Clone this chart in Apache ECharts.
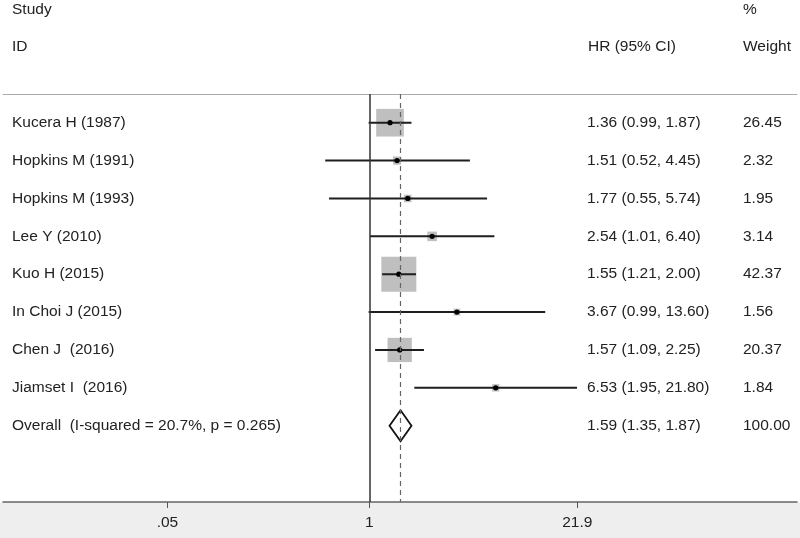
<!DOCTYPE html>
<html>
<head>
<meta charset="utf-8">
<script src="https://cdn.jsdelivr.net/npm/echarts@6/dist/echarts.min.js"></script>
<style>
  html, body { margin: 0; padding: 0; background: #fff; }
  #chart { width: 800px; height: 538px; }
</style>
</head>
<body>
<div id="chart"></div>
<script>
const studies = ['Kucera H (1987)', 'Hopkins M (1991)', 'Hopkins M (1993)', 'Lee Y (2010)',
  'Kuo H (2015)', 'In Choi J (2015)', 'Chen J  (2016)', 'Jiamset I  (2016)'];
const hr = [1.36, 1.51, 1.77, 2.54, 1.55, 3.67, 1.57, 6.53];
const lower = [0.99, 0.52, 0.55, 1.01, 1.21, 0.99, 1.09, 1.95];
const upper = [1.87, 4.45, 5.74, 6.40, 2.00, 13.60, 2.25, 21.80];
const weights = [26.45, 2.32, 1.95, 3.14, 42.37, 1.56, 20.37, 1.84];

const overallLabel = 'Overall  (I-squared = 20.7%, p = 0.265)';
const overall = [1.59, 1.35, 1.87];
const overallWeight = 100.00;

const tickValues = [0.05, 1, 21.9];
const tickLabels = ['.05', '1', '21.9'];

const FONT_FAMILY = '"Liberation Sans", Arial, sans-serif';
const FONT = '15.5px ' + FONT_FAMILY;
const TEXT = '#222';

const chart = echarts.init(document.getElementById('chart'));

const ln = (v) => Math.log(v);
const fmt = (v) => v.toFixed(2);

const studyData = hr.map((h, i) => [ln(h), i, ln(lower[i]), ln(upper[i]), weights[i]]);

// text rows: label, "HR (CI)", weight -- looked up by dataIndex in renderText
const rowText = studies.map((s, i) => [s, `${fmt(hr[i])} (${fmt(lower[i])}, ${fmt(upper[i])})`, fmt(weights[i])]);
rowText.push([overallLabel, `${fmt(overall[0])} (${fmt(overall[1])}, ${fmt(overall[2])})`, fmt(overallWeight)]);
const textData = rowText.map((r, i) => [0, i]);

function renderStudy(params, api) {
  const c = api.coord([api.value(0), api.value(1)]);
  const lo = api.coord([api.value(2), api.value(1)]);
  const hi = api.coord([api.value(3), api.value(1)]);
  const side = 5.377 * Math.sqrt(api.value(4));
  return {
    type: 'group',
    children: [
      { type: 'rect', shape: { x: c[0] - side / 2, y: c[1] - side / 2, width: side, height: side },
        style: { fill: '#bfbfbf' } },
      { type: 'line', shape: { x1: lo[0], y1: c[1], x2: hi[0], y2: c[1] },
        style: { stroke: '#1e1e1e', lineWidth: 2 } },
      { type: 'circle', shape: { cx: c[0], cy: c[1], r: 2.6 }, style: { fill: '#000' } }
    ]
  };
}

function renderDiamond(params, api) {
  const c = api.coord([api.value(0), api.value(1)]);
  const lo = api.coord([api.value(2), api.value(1)]);
  const hi = api.coord([api.value(3), api.value(1)]);
  const h = 15.5;
  return {
    type: 'polygon',
    shape: { points: [[lo[0], c[1]], [c[0], c[1] - h], [hi[0], c[1]], [c[0], c[1] + h]] },
    style: { fill: '#fff', stroke: '#111', lineWidth: 1.8 }
  };
}

function renderText(params, api) {
  const y = api.coord([0, api.value(1)])[1];
  const row = rowText[params.dataIndex];
  const xs = [12, 587, 743];
  return {
    type: 'group',
    children: xs.map((x, k) => ({
      type: 'text', x: x, y: y,
      style: { text: row[k], fill: TEXT, font: FONT, verticalAlign: 'middle' }
    }))
  };
}

const headers = [
  ['Study', 12, 10], ['ID', 12, 47], ['HR (95% CI)', 588, 47], ['%', 743, 10], ['Weight', 743, 47]
];

chart.setOption({
  animation: false,
  backgroundColor: '#fff',
  grid: { left: 3, right: 3, top: 94, bottom: 36 },
  graphic: [
    { type: 'rect', z: -10, shape: { x: 0, y: 502, width: 800, height: 36 }, style: { fill: '#eeeeee' } },
    ...headers.map(([t, x, y]) => ({
      type: 'text', x: x, y: y,
      style: { text: t, fill: TEXT, font: FONT, verticalAlign: 'middle' }
    }))
  ],
  xAxis: [
    {
      type: 'value',
      min: -5.4355,
      max: 6.3467,
      position: 'bottom',
      splitLine: { show: false },
      axisLine: { onZero: false, lineStyle: { color: '#666', width: 1.5 } },
      axisTick: { customValues: tickValues.map(ln), length: 6, lineStyle: { color: '#555' } },
      axisLabel: {
        customValues: tickValues.map(ln),
        margin: 13,
        color: TEXT,
        fontSize: 15.5,
        fontFamily: FONT_FAMILY,
        formatter: (v) => {
          const i = tickValues.findIndex((t) => Math.abs(ln(t) - v) < 1e-6);
          return i >= 0 ? tickLabels[i] : '';
        }
      }
    },
    {
      type: 'value',
      min: -5.4355,
      max: 6.3467,
      position: 'top',
      splitLine: { show: false },
      axisLine: { onZero: false, lineStyle: { color: '#aaa', width: 1 } },
      axisTick: { show: false },
      axisLabel: { show: false }
    }
  ],
  yAxis: {
    type: 'value',
    inverse: true,
    min: -0.758,
    max: 10.014,
    show: false
  },
  series: [
    {
      name: 'ref',
      type: 'custom',
      data: [],
      renderItem: () => null,
      markLine: {
        symbol: 'none',
        silent: true,
        label: { show: false },
        data: [
          { xAxis: 0, lineStyle: { color: '#333', width: 1.5, type: 'solid' } },
          { xAxis: ln(overall[0]), lineStyle: { color: '#666', width: 1.2, type: [5, 4] } }
        ]
      }
    },
    { name: 'studies', type: 'custom', renderItem: renderStudy, data: studyData },
    {
      name: 'overall', type: 'custom', renderItem: renderDiamond,
      data: [[ln(overall[0]), studies.length, ln(overall[1]), ln(overall[2])]]
    },
    { name: 'text', type: 'custom', renderItem: renderText, data: textData }
  ]
});

window.addEventListener('resize', () => chart.resize());
</script>
</body>
</html>
